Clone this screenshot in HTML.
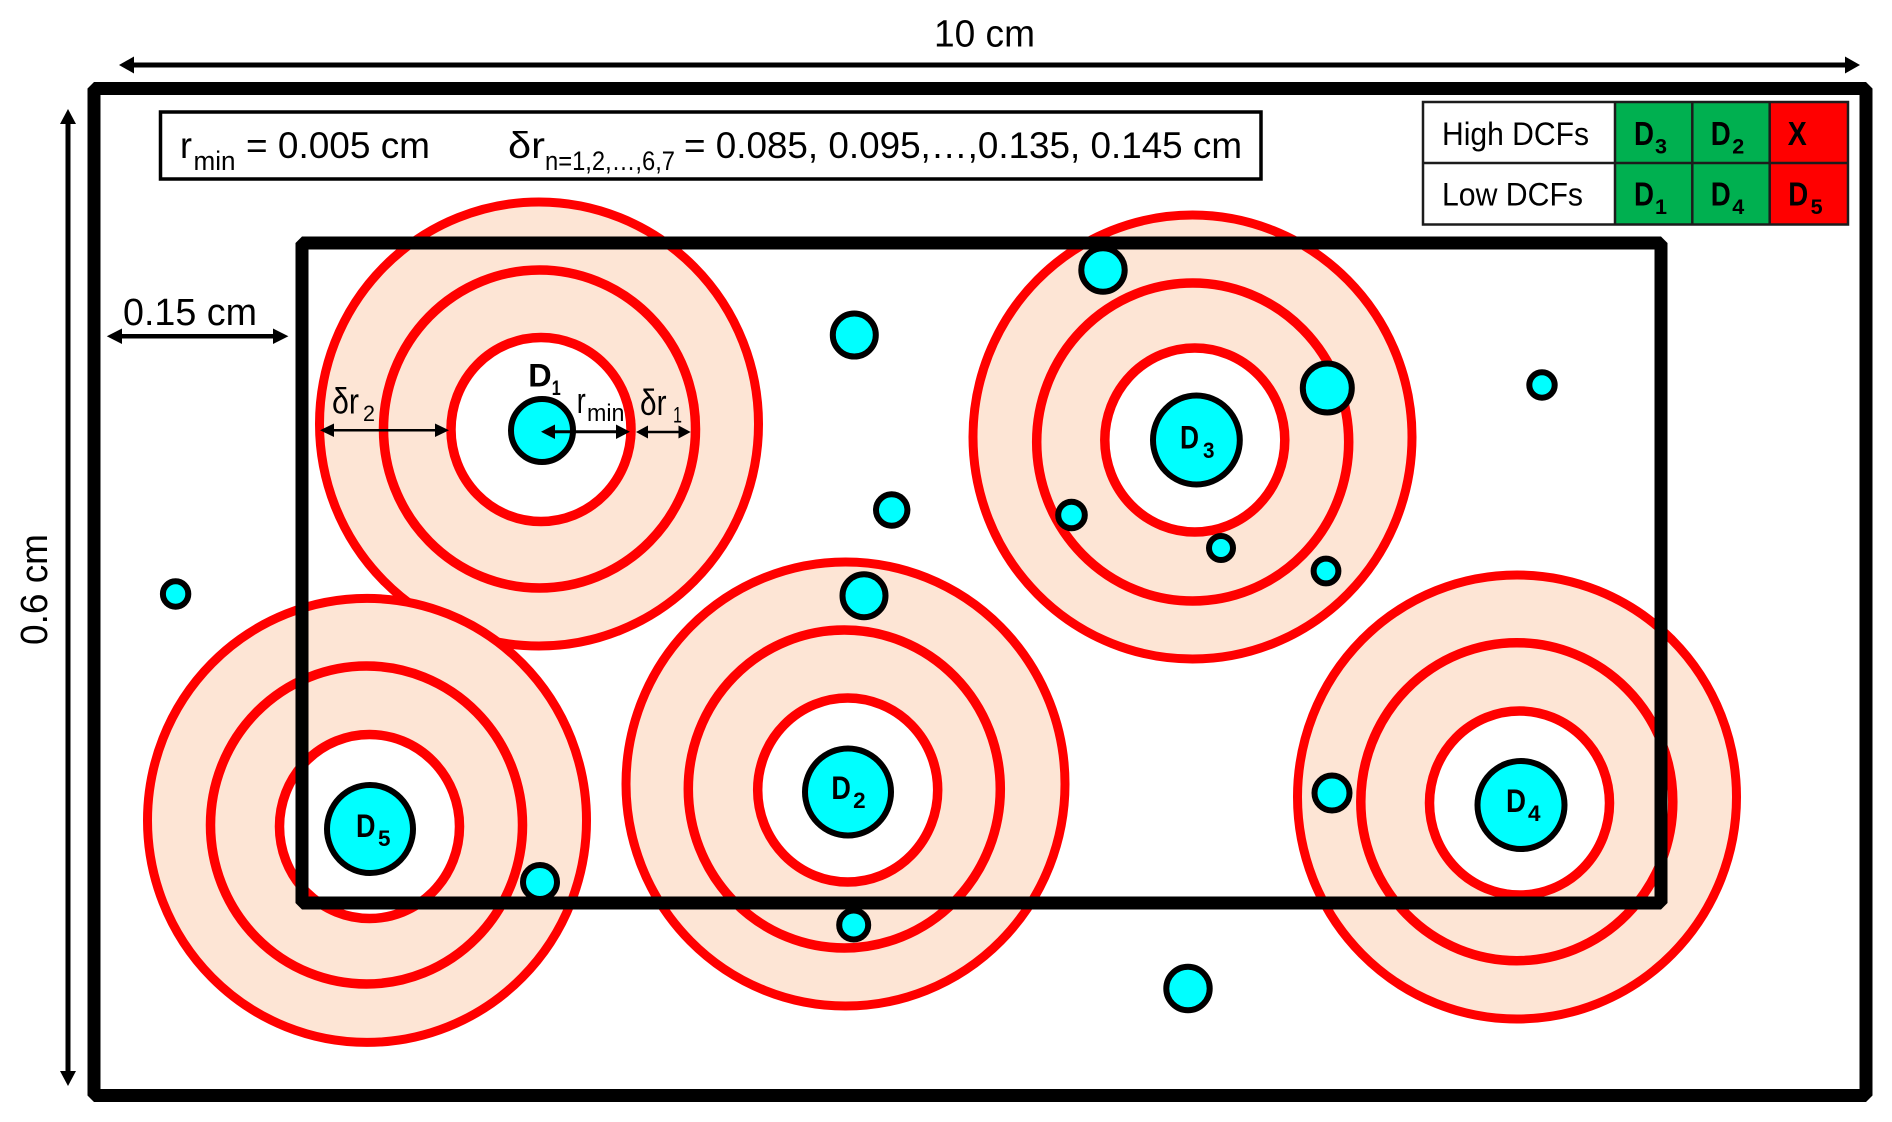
<!DOCTYPE html>
<html>
<head>
<meta charset="utf-8">
<style>
html,body{margin:0;padding:0;background:#fff;width:1892px;height:1122px;overflow:hidden}
svg{display:block}
text{font-family:"Liberation Sans",sans-serif;fill:#000}
.b{font-weight:bold}
.o{fill:#FDE5D5;stroke:#FF0000;stroke-width:9}
.w{fill:#fff;stroke:#FF0000;stroke-width:9.5}
.c{fill:#00FFFF;stroke:#000;stroke-width:6}
</style>
</head>
<body>
<svg width="1892" height="1122" viewBox="0 0 1892 1122" xmlns="http://www.w3.org/2000/svg">
<rect x="0" y="0" width="1892" height="1122" fill="#fff"/>

<!-- outer frame -->
<rect x="94" y="88.5" width="1772" height="1007" fill="none" stroke="#000" stroke-width="13" stroke-linejoin="bevel"/>

<!-- D1 -->
<ellipse class="o" cx="539" cy="424" rx="219.5" ry="222"/>
<ellipse class="o" style="stroke-width:9.5" cx="539.5" cy="429" rx="156" ry="159"/>
<ellipse class="w" cx="541" cy="429.5" rx="90" ry="92"/>
<ellipse class="c" cx="542" cy="430.5" rx="31" ry="31.5"/>

<!-- D3 -->
<ellipse class="o" cx="1192.5" cy="437" rx="219.5" ry="222"/>
<ellipse class="o" style="stroke-width:9.5" cx="1192.7" cy="442" rx="156" ry="159"/>
<ellipse class="w" cx="1194.8" cy="440" rx="90" ry="92"/>
<ellipse class="c" cx="1196.4" cy="440" rx="43.4" ry="44.5"/>

<!-- D2 -->
<ellipse class="o" cx="845.5" cy="784" rx="219.5" ry="222"/>
<ellipse class="o" style="stroke-width:9.5" cx="844.3" cy="789" rx="156" ry="159"/>
<ellipse class="w" cx="847.7" cy="790" rx="90" ry="92"/>
<ellipse class="c" cx="848" cy="792" rx="43" ry="43.5"/>

<!-- D5 -->
<ellipse class="o" cx="367" cy="820.4" rx="219.5" ry="222"/>
<ellipse class="o" style="stroke-width:9.5" cx="366.5" cy="825" rx="156" ry="159"/>
<ellipse class="w" cx="369.5" cy="826.5" rx="90" ry="92"/>
<ellipse class="c" cx="370" cy="829" rx="43" ry="44"/>

<!-- D4 -->
<ellipse class="o" cx="1517" cy="797" rx="219.5" ry="222"/>
<ellipse class="o" style="stroke-width:9.5" cx="1516.8" cy="801.7" rx="156" ry="159"/>
<ellipse class="w" cx="1519.5" cy="803" rx="90" ry="92"/>
<ellipse class="c" cx="1521" cy="805" rx="43.5" ry="44"/>

<!-- small circles -->
<circle class="c" cx="854.3" cy="335" r="21.5"/>
<circle class="c" cx="891.7" cy="510" r="15.7"/>
<circle class="c" cx="175.6" cy="594" r="12.7"/>
<circle class="c" cx="864" cy="595.7" r="21.5"/>
<circle class="c" cx="540" cy="882" r="17"/>
<circle class="c" cx="853.7" cy="925" r="14.5"/>
<circle class="c" cx="1103" cy="270" r="21.7"/>
<circle class="c" cx="1327.3" cy="388" r="24.5"/>
<circle class="c" cx="1542" cy="385" r="12.7"/>
<circle class="c" cx="1071.5" cy="515" r="13.3"/>
<circle class="c" cx="1221" cy="548" r="12"/>
<circle class="c" cx="1326" cy="571" r="12.4"/>
<circle class="c" cx="1332" cy="793" r="17.5"/>
<circle class="c" cx="1188" cy="988.5" r="21.7"/>

<!-- inner rectangle -->
<rect x="302" y="243" width="1359" height="660" fill="none" stroke="#000" stroke-width="13" stroke-linejoin="bevel"/>

<!-- top dimension -->
<line x1="130" y1="65" x2="1850" y2="65" stroke="#000" stroke-width="5"/>
<polygon points="119,65 134,56.5 134,73.5" fill="#000"/>
<polygon points="1860,65 1845,56.5 1845,73.5" fill="#000"/>
<text x="934" y="46.5" font-size="38" textLength="101" lengthAdjust="spacingAndGlyphs">10 cm</text>

<!-- left dimension -->
<line x1="68" y1="120" x2="68" y2="1075" stroke="#000" stroke-width="5"/>
<polygon points="68,109 60,124 76,124" fill="#000"/>
<polygon points="68,1086 60,1071 76,1071" fill="#000"/>
<text transform="translate(47,645) rotate(-90)" font-size="38" textLength="111" lengthAdjust="spacingAndGlyphs">0.6 cm</text>

<!-- 0.15 cm -->
<line x1="118" y1="336.3" x2="278" y2="336.3" stroke="#000" stroke-width="4.5"/>
<polygon points="106.8,336.3 122,328.5 122,344" fill="#000"/>
<polygon points="288.4,336.3 273,328.5 273,344" fill="#000"/>
<text x="123" y="325" font-size="38" textLength="134" lengthAdjust="spacingAndGlyphs">0.15 cm</text>

<!-- formula box -->
<rect x="160.5" y="112" width="1100.5" height="67" fill="#fff" stroke="#000" stroke-width="3.5"/>
<text x="180" y="158" font-size="37" textLength="12" lengthAdjust="spacingAndGlyphs">r</text>
<text x="193.5" y="170" font-size="27" textLength="42" lengthAdjust="spacingAndGlyphs">min</text>
<text x="246" y="158" font-size="37" textLength="184" lengthAdjust="spacingAndGlyphs">= 0.005 cm</text>
<text x="508" y="158" font-size="37" textLength="37" lengthAdjust="spacingAndGlyphs">δr</text>
<text x="545" y="170" font-size="27" textLength="130" lengthAdjust="spacingAndGlyphs">n=1,2,…,6,7</text>
<text x="684" y="158" font-size="37" textLength="558" lengthAdjust="spacingAndGlyphs">= 0.085, 0.095,…,0.135, 0.145 cm</text>

<!-- table -->
<rect x="1423" y="102" width="192" height="61" fill="#fff"/>
<rect x="1423" y="163" width="192" height="61" fill="#fff"/>
<rect x="1615" y="102" width="154.7" height="122" fill="#00B050"/>
<rect x="1769.7" y="102" width="78.6" height="122" fill="#FF0000"/>
<g stroke="#1c1c1c" stroke-width="2.5" fill="none">
<rect x="1423" y="102" width="425" height="122.5"/>
<line x1="1423" y1="163" x2="1848" y2="163"/>
<line x1="1615" y1="102" x2="1615" y2="224"/>
<line x1="1692.3" y1="102" x2="1692.3" y2="224"/>
<line x1="1769.7" y1="102" x2="1769.7" y2="224"/>
</g>
<text x="1442" y="145" font-size="32" textLength="147" lengthAdjust="spacingAndGlyphs">High DCFs</text>
<text x="1442" y="205.7" font-size="32" textLength="141" lengthAdjust="spacingAndGlyphs">Low DCFs</text>

<text class="b" x="1634" y="145" font-size="33" textLength="20" lengthAdjust="spacingAndGlyphs">D</text>
<text class="b" x="1655" y="153.5" font-size="21" textLength="12" lengthAdjust="spacingAndGlyphs">3</text>
<text class="b" x="1710.7" y="145" font-size="33" textLength="20" lengthAdjust="spacingAndGlyphs">D</text>
<text class="b" x="1732.3" y="153.5" font-size="21" textLength="12" lengthAdjust="spacingAndGlyphs">2</text>
<text class="b" x="1787.7" y="145" font-size="33" textLength="19" lengthAdjust="spacingAndGlyphs">X</text>
<text class="b" x="1634" y="205.7" font-size="33" textLength="20" lengthAdjust="spacingAndGlyphs">D</text>
<text class="b" x="1655" y="214" font-size="21" textLength="12" lengthAdjust="spacingAndGlyphs">1</text>
<text class="b" x="1710.7" y="205.7" font-size="33" textLength="20" lengthAdjust="spacingAndGlyphs">D</text>
<text class="b" x="1732.3" y="214" font-size="21" textLength="12" lengthAdjust="spacingAndGlyphs">4</text>
<text class="b" x="1788.3" y="205.7" font-size="33" textLength="20" lengthAdjust="spacingAndGlyphs">D</text>
<text class="b" x="1810.7" y="214" font-size="21" textLength="12" lengthAdjust="spacingAndGlyphs">5</text>

<!-- device labels -->
<text class="b" x="1180" y="448.5" font-size="32" textLength="19" lengthAdjust="spacingAndGlyphs">D</text>
<text class="b" x="1203" y="458" font-size="22" textLength="11.5" lengthAdjust="spacingAndGlyphs">3</text>
<text class="b" x="831.4" y="799" font-size="32" textLength="19.5" lengthAdjust="spacingAndGlyphs">D</text>
<text class="b" x="853.2" y="808" font-size="22" textLength="12.5" lengthAdjust="spacingAndGlyphs">2</text>
<text class="b" x="356" y="837" font-size="32" textLength="19.5" lengthAdjust="spacingAndGlyphs">D</text>
<text class="b" x="378" y="846" font-size="22" textLength="12.5" lengthAdjust="spacingAndGlyphs">5</text>
<text class="b" x="1506" y="812" font-size="32" textLength="20" lengthAdjust="spacingAndGlyphs">D</text>
<text class="b" x="1528" y="821" font-size="22" textLength="12.5" lengthAdjust="spacingAndGlyphs">4</text>
<text class="b" x="528.3" y="386.7" font-size="32" textLength="23.4" lengthAdjust="spacingAndGlyphs">D</text>
<text class="b" x="551.7" y="395" font-size="21" textLength="9" lengthAdjust="spacingAndGlyphs">1</text>

<!-- D1 annotations -->
<text x="332" y="413.3" font-size="36" textLength="27" lengthAdjust="spacingAndGlyphs">δr</text>
<text x="363" y="421" font-size="22" textLength="12" lengthAdjust="spacingAndGlyphs">2</text>
<text x="576.7" y="413" font-size="36" textLength="9" lengthAdjust="spacingAndGlyphs">r</text>
<text x="587" y="421" font-size="24" textLength="37.5" lengthAdjust="spacingAndGlyphs">min</text>
<text x="640" y="415" font-size="36" textLength="26.5" lengthAdjust="spacingAndGlyphs">δr</text>
<text x="673" y="422.7" font-size="22" textLength="9" lengthAdjust="spacingAndGlyphs">1</text>

<line x1="330" y1="430.3" x2="440" y2="430.3" stroke="#000" stroke-width="2.5"/>
<polygon points="320,430.3 334,423.5 334,437" fill="#000"/>
<polygon points="449,430.3 435,423.5 435,437" fill="#000"/>
<line x1="552" y1="431.7" x2="620" y2="431.7" stroke="#000" stroke-width="3"/>
<polygon points="541,431.7 555,424.5 555,439" fill="#000"/>
<polygon points="630,431.7 616,424.5 616,439" fill="#000"/>
<line x1="644" y1="432" x2="682" y2="432" stroke="#000" stroke-width="2.5"/>
<polygon points="636,432 648,425.5 648,438.5" fill="#000"/>
<polygon points="690.7,432 678.5,425.5 678.5,438.5" fill="#000"/>
</svg>
</body>
</html>
